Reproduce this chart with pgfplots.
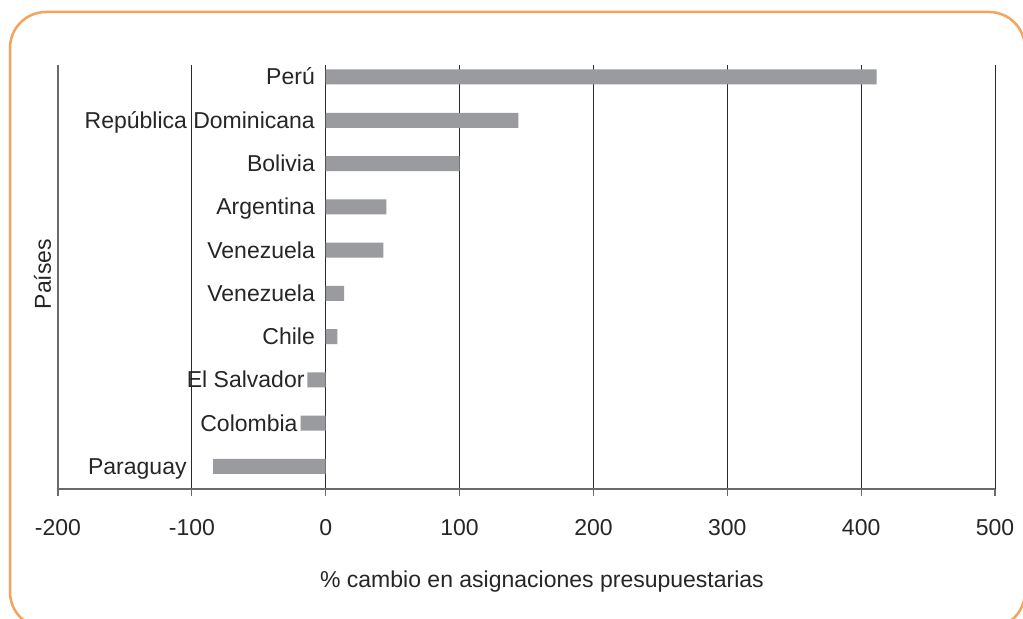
\documentclass[border=0pt]{standalone}
\usepackage{pgfplots}
\usepackage{pgfplotstable}
\pgfplotsset{compat=1.18}
\usepackage{fontspec}
\setmainfont{Liberation Sans}
\definecolor{bargray}{HTML}{9A9B9F}
\definecolor{frameorange}{HTML}{F6A35C}
\definecolor{gridc}{HTML}{2A2A2A}
\definecolor{axisc}{HTML}{6A6A6A}

\pgfplotstableread[col sep=comma]{
y,value
9,411.5
8,144
7,100
6,45.3
5,43.1
4,13.7
3,8.7
2,-13.7
1,-18.7
0,-84.2
}\bardata

\pgfplotstableread[col sep=comma]{
y,x,label
9,-8,Perú
8,-8,República Dominicana
7,-8,Bolivia
6,-8,Argentina
5,-8,Venezuela
4,-8,Venezuela
3,-8,Chile
2,-15.7,El Salvador
1,-20.9,Colombia
0,-103.8,Paraguay
}\labeldata

\begin{document}
\begin{tikzpicture}[x=1bp,y=1bp]
\useasboundingbox (0,0) rectangle (1023,619);
\clip (0,0) rectangle (1023,619);
\fill[white] (0,0) rectangle (1023,619);
\draw[frameorange, line width=2.5bp, rounded corners=36bp] (10,-9) rectangle (1025,607);
\begin{axis}[
  at={(58bp,130bp)}, anchor=south west,
  scale only axis, width=937bp, height=424bp,
  xmin=-200, xmax=500, ymin=-0.52, ymax=9.277,
  axis x line*=bottom, axis y line*=left,
  x axis line style={axisc, line width=1.6bp},
  y axis line style={axisc, line width=1.4bp},
  xtick={-200,-100,0,100,200,300,400,500},
  xticklabels={-200,-100,0,100,200,300,400,500},
  ytick=\empty,
  tick align=outside, major tick length=7bp,
  xtick style={axisc, line width=1.2bp},
  xmajorgrids, major grid style={gridc, line width=1bp},
  font=\fontsize{23bp}{27bp}\selectfont,
  xticklabel style={anchor=north, yshift=-20bp, text=black!85},
  xlabel={\% cambio en asignaciones presupuestarias},
  xlabel style={at={(axis description cs:0.5165,0)}, anchor=center, yshift=-93bp, text=black!85},
  ylabel={Países},
  ylabel style={at={(axis description cs:0,0.507)}, anchor=center, yshift=15.5bp, text=black!85},
  clip=false,
]
\addplot[xbar, bar width=15bp, bar shift=0pt, fill=bargray, draw=none] table[x=value, y=y] {\bardata};
\addplot[draw=none, mark=none, nodes near coords, point meta=explicit symbolic,
  nodes near coords style={anchor=base east, inner sep=0pt, yshift=-8bp, text=black!85, font=\fontsize{23bp}{27bp}\selectfont}]
  table[x=x, y=y, meta=label] {\labeldata};
\end{axis}
\end{tikzpicture}
\end{document}
